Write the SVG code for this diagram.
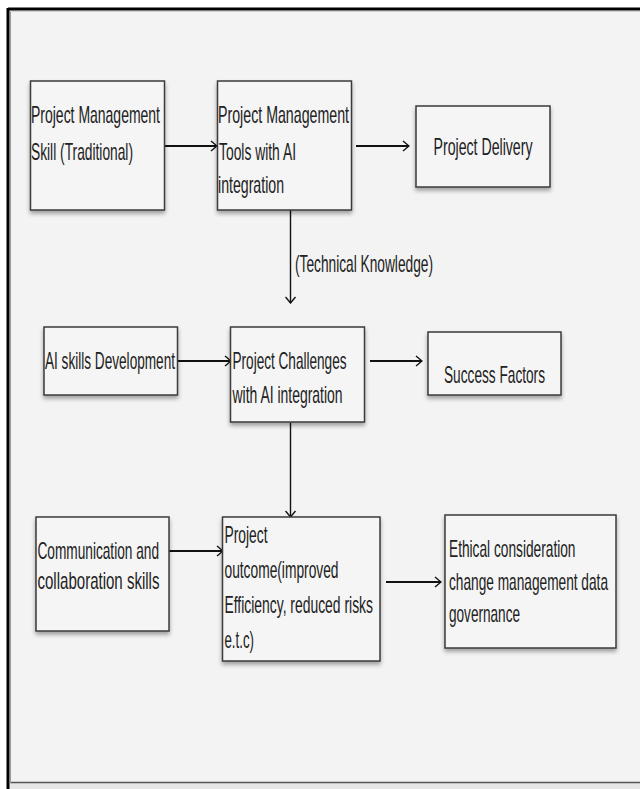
<svg xmlns="http://www.w3.org/2000/svg" width="640" height="789" viewBox="0 0 640 789">
<defs>
<style>
.box{fill:#f5f5f5;stroke:#3a3a3a;stroke-width:1.5;filter:url(#sh)}
.t{font-family:"Liberation Sans",Arial,sans-serif;font-size:23px;fill:#222}
.c{stroke:#111;stroke-width:2;fill:none;marker-end:url(#ah)}
.v{stroke:#111;stroke-width:1.4;fill:none;marker-end:url(#ah)}
</style>
<marker id="ah" viewBox="0 0 10 12" refX="9" refY="6" markerWidth="10" markerHeight="12" markerUnits="userSpaceOnUse" orient="auto">
<path d="M3,1 L9,6 L3,11" fill="none" stroke="#111" stroke-width="1.4"/>
</marker>
<filter id="sh" x="-10%" y="-10%" width="120%" height="130%">
<feGaussianBlur in="SourceAlpha" stdDeviation="2"/>
<feOffset dx="0" dy="3" result="b"/>
<feComponentTransfer><feFuncA type="linear" slope="0.35"/></feComponentTransfer>
<feMerge><feMergeNode/><feMergeNode in="SourceGraphic"/></feMerge>
</filter>
</defs>
<rect x="0" y="0" width="640" height="789" fill="#ffffff"/>
<rect x="8" y="9" width="640" height="780" fill="#f3f3f3"/>
<rect x="9" y="783" width="631" height="6" fill="#e6e6e6"/>
<line x1="10" y1="782.5" x2="640" y2="782.5" stroke="#555" stroke-width="1.5"/>
<line x1="10.5" y1="11" x2="10.5" y2="783" stroke="#9a9a9a" stroke-width="1"/>
<line x1="10" y1="11.5" x2="640" y2="11.5" stroke="#cfcfcf" stroke-width="1"/>
<line x1="8" y1="9" x2="640" y2="9" stroke="#000" stroke-width="3"/>
<line x1="8" y1="8" x2="8" y2="789" stroke="#000" stroke-width="3"/>

<g id="connectors">
<line class="c" x1="165" y1="146" x2="217" y2="146"/>
<line class="c" x1="356" y1="146" x2="409" y2="146"/>
<line class="v" x1="290.5" y1="210" x2="290.5" y2="303"/>
<text class="t" transform="matrix(0.65 0 0 1 0 0)" x="453.85" y="272" textLength="212.31" lengthAdjust="spacingAndGlyphs">(Technical Knowledge)</text>
<line class="c" x1="178" y1="361" x2="231" y2="361"/>
<line class="c" x1="370" y1="361" x2="422" y2="361"/>
<line class="v" x1="290.5" y1="423" x2="290.5" y2="517"/>
<line class="c" x1="169" y1="551" x2="223" y2="551"/>
<line class="c" x1="386" y1="582" x2="441" y2="582"/>
</g>

<g id="n1">
<rect class="box" x="30.5" y="81" width="134" height="129"/>
<g transform="matrix(0.65 0 0 1 0 0)">
<text class="t" x="47.69" y="123" textLength="198.46" lengthAdjust="spacingAndGlyphs">Project Management</text>
<text class="t" x="47.69" y="160" textLength="156.92" lengthAdjust="spacingAndGlyphs">Skill (Traditional)</text>
</g>
</g>
<g id="n2">
<rect class="box" x="217.5" y="81" width="134" height="129"/>
<g transform="matrix(0.65 0 0 1 0 0)">
<text class="t" x="335.38" y="123" textLength="201.54" lengthAdjust="spacingAndGlyphs">Project Management</text>
<text class="t" x="336.92" y="160" textLength="118.46" lengthAdjust="spacingAndGlyphs">Tools with AI</text>
<text class="t" x="335.38" y="193" textLength="101.54" lengthAdjust="spacingAndGlyphs">integration</text>
</g>
</g>
<g id="n3">
<rect class="box" x="416" y="106" width="134" height="81"/>
<g transform="matrix(0.65 0 0 1 0 0)">
<text class="t" x="666.92" y="155" textLength="152.31" lengthAdjust="spacingAndGlyphs">Project Delivery</text>
</g>
</g>
<g id="n4">
<rect class="box" x="44" y="327" width="133.5" height="68"/>
<g transform="matrix(0.65 0 0 1 0 0)">
<text class="t" x="69.23" y="369" textLength="200" lengthAdjust="spacingAndGlyphs">AI skills Development</text>
</g>
</g>
<g id="n5">
<rect class="box" x="230.5" y="327" width="134" height="95"/>
<g transform="matrix(0.65 0 0 1 0 0)">
<text class="t" x="357.69" y="369" textLength="175.38" lengthAdjust="spacingAndGlyphs">Project Challenges</text>
<text class="t" x="357.69" y="403" textLength="169.23" lengthAdjust="spacingAndGlyphs">with AI integration</text>
</g>
</g>
<g id="n6">
<rect class="box" x="428" y="332" width="133" height="63"/>
<g transform="matrix(0.65 0 0 1 0 0)">
<text class="t" x="683.08" y="383" textLength="155.38" lengthAdjust="spacingAndGlyphs">Success Factors</text>
</g>
</g>
<g id="n7">
<rect class="box" x="36" y="517" width="133" height="114"/>
<g transform="matrix(0.65 0 0 1 0 0)">
<text class="t" x="57.69" y="559" textLength="186.92" lengthAdjust="spacingAndGlyphs">Communication and</text>
<text class="t" x="57.69" y="589" textLength="187.69" lengthAdjust="spacingAndGlyphs">collaboration skills</text>
</g>
</g>
<g id="n8">
<rect class="box" x="222.5" y="517" width="157.5" height="144"/>
<g transform="matrix(0.65 0 0 1 0 0)">
<text class="t" x="345.38" y="543" textLength="66.15" lengthAdjust="spacingAndGlyphs">Project</text>
<text class="t" x="345.38" y="578" textLength="175.38" lengthAdjust="spacingAndGlyphs">outcome(improved</text>
<text class="t" x="345.38" y="613" textLength="228.46" lengthAdjust="spacingAndGlyphs">Efficiency, reduced risks</text>
<text class="t" x="345.38" y="648" textLength="45.38" lengthAdjust="spacingAndGlyphs">e.t.c)</text>
</g>
</g>
<g id="n9">
<rect class="box" x="445" y="515" width="171" height="133"/>
<g transform="matrix(0.65 0 0 1 0 0)">
<text class="t" x="690.77" y="557" textLength="194.62" lengthAdjust="spacingAndGlyphs">Ethical consideration</text>
<text class="t" x="690.77" y="590" textLength="244.62" lengthAdjust="spacingAndGlyphs">change management data</text>
<text class="t" x="690.77" y="622" textLength="109.23" lengthAdjust="spacingAndGlyphs">governance</text>
</g>
</g>
</svg>
